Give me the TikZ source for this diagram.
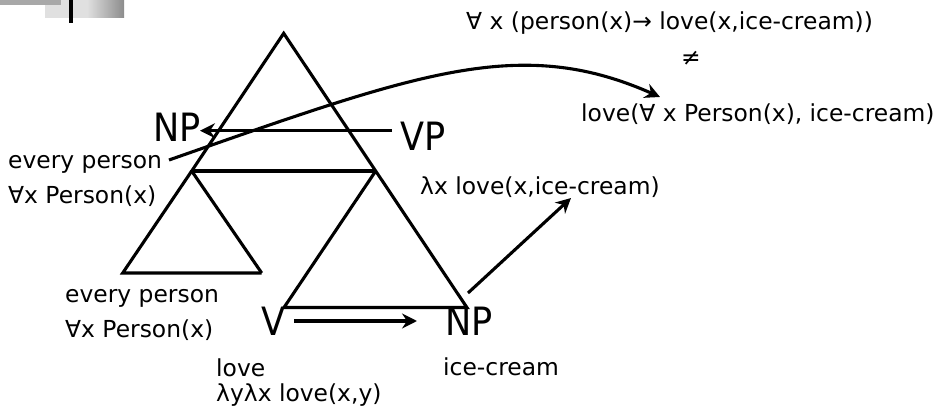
\documentclass[tikz,border=0pt]{standalone}
\usepackage{fontspec}
\setmainfont{DejaVu Sans}
\newfontfamily\bigfont[FakeStretch=0.9]{DejaVu Sans}
\usetikzlibrary{arrows.meta,calc}
\definecolor{deco1}{HTML}{E0E0E0}
\definecolor{deco2}{HTML}{8C8C8C}
\definecolor{deco3}{HTML}{A8A8A8}
\begin{document}
\begin{tikzpicture}[x=1pt,y=-1pt,
  lbl/.style={inner sep=0pt, anchor=base west, font=\fontsize{23.4}{27}\selectfont},
  big/.style={inner sep=0pt, anchor=base west, font=\bigfont\fontsize{39}{44}\selectfont},
  ln/.style={line width=3.1pt, line join=miter},
  arr/.style={line width=3.1pt, -{Stealth[length=15pt,width=15pt,inset=5pt]}}]
\path[fill=white,use as bounding box] (0,0) rectangle (942,411);
% decoration top-left
\fill[deco1] (45,0) rectangle (124,17.7);
\shade[left color=deco1, right color=deco2] (87,0) rectangle (124,17.7);
\fill[deco3] (0,0) rectangle (61,4.7);
\fill[black] (69,0) rectangle (73.3,22.7);
% tree geometry
\coordinate (A) at (283.7,33.3);
\coordinate (L1) at (191.7,171);
\coordinate (R1) at (375.7,171);
\coordinate (SL) at (122.7,273);
\coordinate (SR) at (261.7,273);
\coordinate (BL) at (284,307.5);
\coordinate (BR) at (466.9,307.5);
\draw[ln] (SR) -- (L1) -- (A) -- (BR) -- (BL) -- (R1);
\draw[ln] (L1) -- (SL) -- (SR);
\draw[ln] (L1) -- (R1);
% labels
\node[lbl] (top) at (466,30) {∀ x (person(x)→ love(x,ice-cream))};
\node[inner sep=0pt, font=\fontsize{23.4}{27}\selectfont] (neq) at (691,58) {≠};
\node[lbl] (lovq) at (581,122) {love(∀ x Person(x), ice-cream)};
\node[big] (vp) at (400,150.7) {VP};
\node[lbl] (lamx) at (420,195) {λx love(x,ice-cream)};
\node[big] (np1) at (153,141.7) {NP};
\node[lbl] (ep1) at (8,169) {every person};
\node[lbl] (fa1) at (8,203.5) {∀x Person(x)};
\node[lbl] (ep2) at (65,303) {every person};
\node[lbl] (fa2) at (65,337.5) {∀x Person(x)};
\node[big] (v) at (261,336) {V};
\node[big] (np2) at (445,336) {NP};
\node[lbl] (love) at (216,376) {love};
\node[lbl] (lyx) at (216,401.5) {λyλx love(x,y)};
\node[lbl] (ic) at (443,375) {ice-cream};
% arrows
\draw[arr] ($(vp.base west)+(-8,-20)$) -- ($(np1.base west)+(47,-11)$);
\draw[arr] ($(v.base west)+(33,-15)$) -- ($(np2.base west)+(-28,-15)$);
\draw[arr] ($(np2.base west)+(23,-43)$) -- ($(lamx.base west)+(151,3)$);
\draw[arr] ($(ep1.base west)+(161,-9)$) .. controls (419,72.5) and (520,35) .. ($(lovq.base west)+(79,-25)$);
\end{tikzpicture}
\end{document}
